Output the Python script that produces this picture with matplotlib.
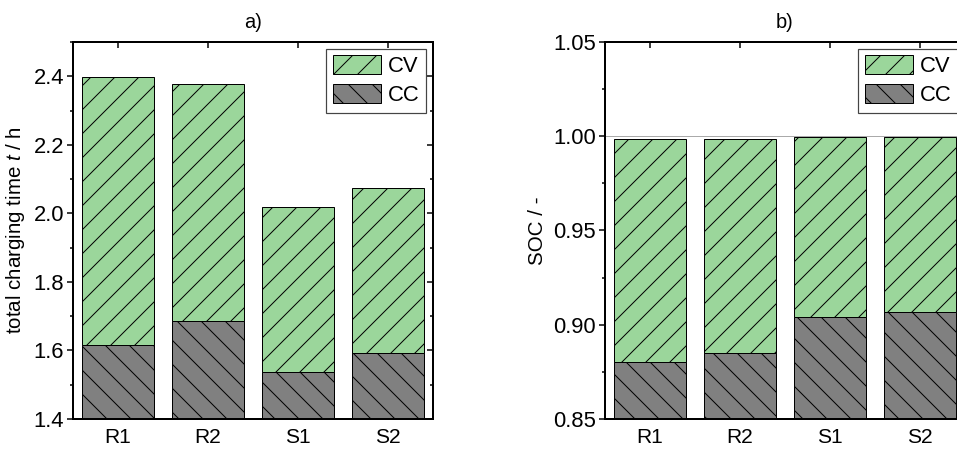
import numpy as np
import matplotlib.pyplot as plt
from matplotlib.ticker import MultipleLocator

plt.rcParams['font.family'] = ['Liberation Sans', 'DejaVu Sans']
plt.rcParams['hatch.linewidth'] = 1.0
plt.rcParams['mathtext.fontset'] = 'custom'
plt.rcParams['mathtext.it'] = 'Liberation Sans:italic'
plt.rcParams['mathtext.rm'] = 'Liberation Sans'

cells = ['R1', 'R2', 'S1', 'S2']
# a) total charging time in h
time_total = [2.398, 2.376, 2.020, 2.075]
time_cc = [1.617, 1.686, 1.536, 1.592]
# b) state of charge
soc_total = [0.9988, 0.9986, 0.9996, 0.9996]
soc_cc = [0.8801, 0.8848, 0.9040, 0.9065]

green = '#9bd69b'
grey = '#808080'

fig = plt.figure(figsize=(957/72, 451/72), dpi=72)
ax1 = fig.add_axes([73/957, 32/451, 360/957, 377/451])
ax2 = fig.add_axes([605/957, 32/451, 360/957, 377/451])


def draw(ax, total, cc, ylim, major, minor, ylabel, title):
    x = np.arange(len(cells))
    cv = np.array(total) - np.array(cc)
    b1 = ax.bar(x, cc, 0.8, color=grey, edgecolor='black', hatch='\\', lw=1)
    b2 = ax.bar(x, cv, 0.8, bottom=cc, color=green, edgecolor='black', hatch='/', lw=1)
    ax.set_xlim(-0.5, 3.5)
    ax.set_ylim(*ylim)
    ax.set_xticks(x)
    ax.set_xticklabels(cells)
    ax.yaxis.set_major_locator(MultipleLocator(major))
    ax.yaxis.set_minor_locator(MultipleLocator(minor))
    ax.tick_params(axis='y', which='both', direction='out', labelsize=22, width=1.5, pad=3)
    ax.tick_params(axis='y', which='major', length=6)
    ax.tick_params(axis='y', which='minor', length=3.5)
    ax.tick_params(axis='x', which='both', bottom=False, top=True, direction='in',
                   length=6, width=1.5, labelsize=21, pad=9)
    ax.tick_params(axis='x', which='minor', top=False)
    ry = ax.secondary_yaxis('right')
    ry.yaxis.set_major_locator(MultipleLocator(major))
    ry.yaxis.set_minor_locator(MultipleLocator(minor))
    ry.tick_params(which='both', direction='in', labelright=False, width=1.5)
    ry.tick_params(which='major', length=6)
    ry.tick_params(which='minor', length=3.5)
    ry.spines['right'].set_linewidth(2)
    for s in ax.spines.values():
        s.set_linewidth(2)
    ax.set_ylabel(ylabel, fontsize=20.5, labelpad=6)
    ax.set_title(title, fontsize=20, pad=14)
    leg = ax.legend([b2, b1], ['CV', 'CC'], loc='upper right', fontsize=22,
                    fancybox=False, edgecolor='#444444', framealpha=1,
                    handlelength=2.2, handleheight=0.95, labelspacing=0.3,
                    handletextpad=0.3, borderpad=0.3, borderaxespad=0.3)
    leg.get_frame().set_linewidth(1.2)
    return ax


draw(ax1, time_total, time_cc, (1.4, 2.5), 0.2, 0.1,
     'total charging time $t$ / h', 'a)')
draw(ax2, soc_total, soc_cc, (0.85, 1.05), 0.05, 0.025, 'SOC / -', 'b)')
ax2.axhline(1.0, color='#aaaaaa', lw=1, zorder=0.5)
ax2.yaxis.set_major_formatter(plt.FormatStrFormatter('%.2f'))

fig.savefig('out.png', dpi=72)
